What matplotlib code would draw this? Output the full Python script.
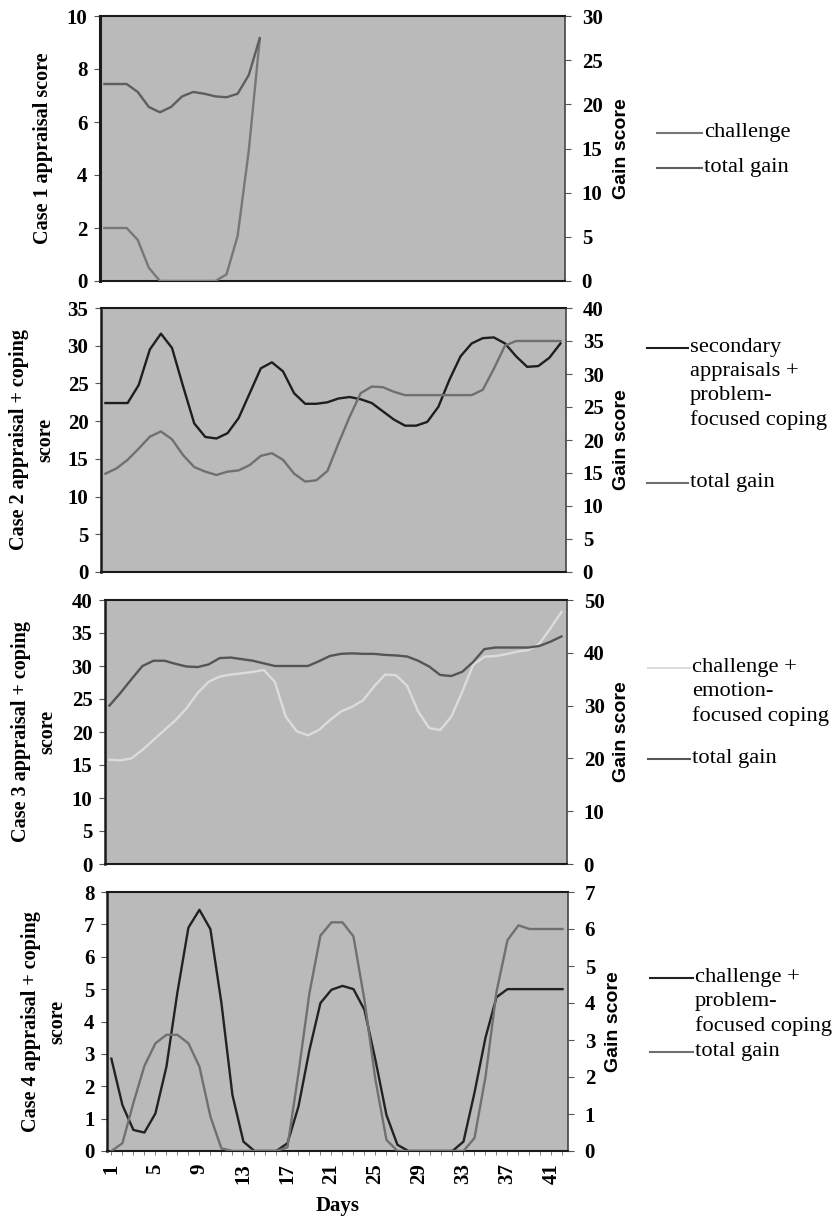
import numpy as np
import matplotlib
matplotlib.use("Agg")
import matplotlib.pyplot as plt
from matplotlib.lines import Line2D

plt.rcParams['font.family'] = ['Liberation Serif', 'DejaVu Serif']

nan = np.nan
days = np.arange(1, 43)
day_ticks = [1, 5, 9, 13, 17, 21, 25, 29, 33, 37, 41]

# Case 1 (recorded up to day 15 only)
c1_challenge = [2.0, 2.0, 2.0, 1.55, 0.5, 0, 0, 0, 0, 0, 0, 0.25, 1.7, 4.9, 9.15] + [nan] * 27
c1_gain = [22.3, 22.3, 22.3, 21.4, 19.7, 19.1, 19.7, 20.9, 21.4, 21.2, 20.9, 20.8, 21.2, 23.3, 27.5] + [nan] * 27

# Case 2
c2_secondary = [22.4, 22.4, 22.4, 24.8, 29.5, 31.6, 29.7, 24.6, 19.7, 17.9, 17.7, 18.4, 20.4, 23.7,
                27.0, 27.8, 26.6, 23.7, 22.3, 22.3, 22.5, 23.0, 23.2, 22.9, 22.4, 21.3, 20.2, 19.4,
                19.4, 19.9, 21.9, 25.5, 28.6, 30.3, 31.0, 31.1, 30.3, 28.6, 27.2, 27.3, 28.4, 30.3]
c2_gain = [14.9, 15.7, 17.0, 18.7, 20.5, 21.3, 20.1, 17.7, 15.9, 15.2, 14.7, 15.2, 15.4, 16.2,
           17.6, 18.0, 17.0, 14.9, 13.7, 13.9, 15.3, 19.5, 23.5, 27.1, 28.1, 28.0, 27.3, 26.8,
           26.8, 26.8, 26.8, 26.8, 26.8, 26.8, 27.6, 30.8, 34.3, 35.0, 35.0, 35.0, 35.0, 35.0]

# Case 3
c3_challenge = [15.8, 15.7, 16.0, 17.3, 18.8, 20.3, 21.8, 23.6, 25.9, 27.6, 28.4, 28.7, 28.9, 29.1,
                29.4, 27.6, 22.3, 20.1, 19.5, 20.3, 21.8, 23.1, 23.8, 24.8, 26.9, 28.7, 28.6, 27.0,
                23.1, 20.6, 20.3, 22.3, 26.1, 30.2, 31.4, 31.5, 31.8, 32.2, 32.4, 33.4, 35.7, 38.2]
c3_gain = [30.0, 32.4, 35.0, 37.5, 38.5, 38.5, 37.9, 37.4, 37.3, 37.8, 39.0, 39.1, 38.8, 38.5,
           38.0, 37.5, 37.5, 37.5, 37.5, 38.4, 39.4, 39.8, 39.9, 39.8, 39.8, 39.6, 39.5, 39.3,
           38.5, 37.4, 35.8, 35.6, 36.4, 38.3, 40.7, 41.0, 41.0, 41.0, 41.0, 41.3, 42.1, 43.1]

# Case 4
c4_challenge = [2.85, 1.42, 0.65, 0.57, 1.16, 2.6, 4.9, 6.9, 7.45, 6.85, 4.57, 1.73, 0.29, 0,
                0, 0, 0.24, 1.37, 3.12, 4.57, 4.98, 5.1, 5.0, 4.36, 2.81, 1.11, 0.19, 0,
                0, 0, 0, 0, 0.29, 1.8, 3.5, 4.75, 5.0, 5.0, 5.0, 5.0, 5.0, 5.0]
c4_gain = [0, 0.21, 1.3, 2.3, 2.91, 3.14, 3.14, 2.91, 2.28, 0.93, 0.07, 0, 0, 0,
           0, 0, 0.1, 2.1, 4.27, 5.82, 6.18, 6.18, 5.8, 4.08, 1.92, 0.3, 0, 0,
           0, 0, 0, 0, 0, 0.35, 2.0, 4.3, 5.7, 6.1, 6.0, 6.0, 6.0, 6.0]

W, H = 836, 1220
fig = plt.figure(figsize=(W / 100, H / 100), dpi=100)
BG = '#bababa'

panels = [
    # box = (left, top, right, bottom) in pixels
    dict(box=(100, 16, 565, 281), left=c1_challenge, right=c1_gain, lmax=10, lstep=2, rmax=30, rstep=5,
         lcol='#777777', rcol='#5e5e5e', ylabel='Case 1 appraisal score', ylx=43,
         legend=[('challenge', '#777777'), ('total gain', '#5e5e5e')], leg_y=[133, 168], leg_x=(657, 702)),
    dict(box=(101, 308, 566, 572), left=c2_secondary, right=c2_gain, lmax=35, lstep=5, rmax=40, rstep=5,
         lcol='#1e1e1e', rcol='#707070', ylabel='Case 2 appraisal + coping\nscore', ylx=32,
         legend=[('secondary\nappraisals +\nproblem-\nfocused coping', '#1e1e1e'), ('total gain', '#707070')],
         leg_y=[348, 483], leg_x=(647, 688)),
    dict(box=(105, 600, 567, 864), left=c3_challenge, right=c3_gain, lmax=40, lstep=5, rmax=50, rstep=10,
         lcol='#dcdcdc', rcol='#555555', ylabel='Case 3 appraisal + coping\nscore', ylx=34,
         legend=[('challenge +\nemotion-\nfocused coping', '#dcdcdc'), ('total gain', '#555555')],
         leg_y=[668, 759], leg_x=(648, 690)),
    dict(box=(107, 892, 568, 1151), left=c4_challenge, right=c4_gain, lmax=8, lstep=1, rmax=7, rstep=1,
         lcol='#222222', rcol='#707070', ylabel='Case 4 appraisal + coping\nscore', ylx=44,
         legend=[('challenge +\nproblem-\nfocused coping', '#222222'), ('total gain', '#707070')],
         leg_y=[978, 1052], leg_x=(650, 693)),
]

tick_font = dict(family=['Liberation Serif'], weight='bold', size=15)

for i, p in enumerate(panels):
    x0, y0, x1, y1 = p['box']
    ax = fig.add_axes([x0 / W, 1 - y1 / H, (x1 - x0) / W, (y1 - y0) / H])
    ax.set_facecolor(BG)
    ax2 = ax.twinx()

    ax.plot(days, p['left'], color=p['lcol'], lw=1.7, zorder=3)
    ax2.plot(days, p['right'], color=p['rcol'], lw=1.7, zorder=3)

    ax.set_xlim(0.6, 42.5)
    ax.set_ylim(0, p['lmax'])
    ax2.set_ylim(0, p['rmax'])
    ax.set_yticks(np.arange(0, p['lmax'] + 0.01, p['lstep']))
    ax2.set_yticks(np.arange(0, p['rmax'] + 0.01, p['rstep']))

    for a in (ax, ax2):
        for lab in a.get_yticklabels():
            lab.set_fontproperties(matplotlib.font_manager.FontProperties(**tick_font))
    ax.tick_params(axis='y', direction='out', length=4, width=0.8, color='#555555', pad=5)
    ax2.tick_params(axis='y', direction='out', length=4, width=0.8, color='#555555', pad=8)

    for s in ax2.spines.values():
        s.set_visible(False)
    ax.spines['left'].set_linewidth(2.2 if i == 0 else 1.8)
    ax.spines['top'].set_linewidth(1.5)
    ax.spines['bottom'].set_linewidth(1.5)
    ax.spines['right'].set_linewidth(1.2)
    for s in ax.spines.values():
        s.set_color('#1a1a1a')
    ax.spines['right'].set_color('#444444')

    if i == 3:
        ax.set_xticks(days)
        ax.set_xticklabels([str(d) if d in day_ticks else '' for d in days],
                           rotation=90, fontweight='bold', fontsize=15, va='top')
        ax.tick_params(axis='x', direction='out', length=3, width=0.6, color='#666666', pad=6)
        ax.set_xlabel('Days', fontsize=15, fontweight='bold', labelpad=8)
    else:
        ax.set_xticks([])

    # axis titles
    cy = 1 - (y0 + y1) / 2 / H
    fig.text(p['ylx'] / W, cy, p['ylabel'], rotation=90, ha='center', va='center',
             fontsize=14.5, fontweight='bold', linespacing=1.45)
    gx = 613 if i == 3 else 621
    fig.text(gx / W, cy, 'Gain score', rotation=90, ha='center', va='center',
             fontsize=14, family=['Liberation Sans'], fontweight='bold')

    # legend drawn beside each panel
    lx0, lx1 = p['leg_x']
    for (label, col), ly in zip(p['legend'], p['leg_y']):
        fig.add_artist(Line2D([lx0 / W, lx1 / W], [1 - ly / H, 1 - ly / H], color=col, lw=1.5,
                              transform=fig.transFigure))
        fig.text((lx1 + 2) / W, 1 - (ly - 10) / H, label, ha='left', va='top', fontsize=16.2,
                 linespacing=1.35)

fig.savefig('out.png', dpi=100, facecolor='white')
